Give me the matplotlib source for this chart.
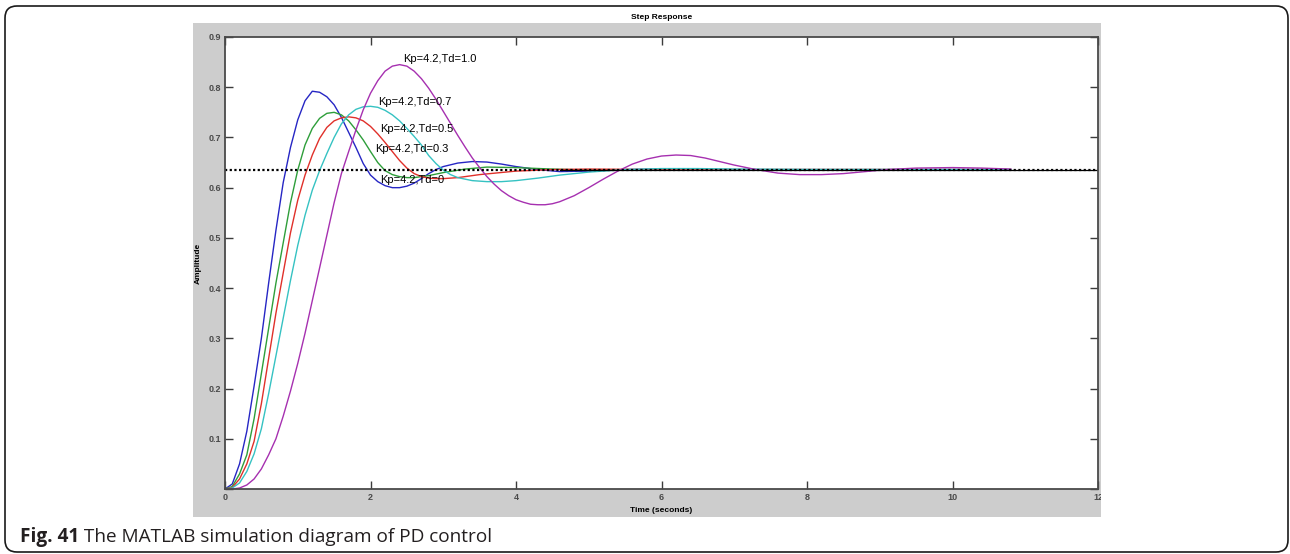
import matplotlib
matplotlib.use("Agg")
import matplotlib.pyplot as plt
from matplotlib.patches import FancyBboxPatch, Rectangle

plt.rcParams['font.family'] = ['Liberation Sans', 'DejaVu Sans']

# step responses, Kp = 4.2 and five values of Td
t_td0 = [0, 0.1, 0.2, 0.3, 0.4, 0.5, 0.6, 0.7, 0.8, 0.9, 1.0, 1.1, 1.2, 1.3, 1.4,
         1.5, 1.6, 1.7, 1.8, 1.9, 2.0, 2.1, 2.2, 2.3, 2.4, 2.5, 2.6, 2.7, 2.8, 2.9,
         3.0, 3.2, 3.4, 3.6, 3.8, 4.0, 4.3, 4.6, 5.0, 5.5, 6.0, 7.0, 8.0, 9.0, 10.0, 10.8]
y_td0 = [0, 0.01, 0.05, 0.115, 0.205, 0.30, 0.41, 0.515, 0.61, 0.68, 0.735, 0.773, 0.792,
         0.790, 0.781, 0.765, 0.74, 0.71, 0.68, 0.648, 0.625, 0.612, 0.604, 0.600, 0.600,
         0.603, 0.609, 0.618, 0.628, 0.636, 0.642, 0.649, 0.652, 0.651, 0.647, 0.642, 0.636,
         0.632, 0.633, 0.636, 0.637, 0.636, 0.636, 0.636, 0.636, 0.636]

t_td03 = [0, 0.1, 0.2, 0.3, 0.4, 0.5, 0.6, 0.7, 0.8, 0.9, 1.0, 1.1, 1.2, 1.3, 1.4,
          1.5, 1.6, 1.7, 1.8, 1.9, 2.0, 2.1, 2.2, 2.3, 2.4, 2.5, 2.6, 2.8, 3.0, 3.3,
          3.6, 4.0, 4.5, 5.0, 6.0, 7.0, 8.0, 9.0, 10.0, 10.8]
y_td03 = [0, 0.005, 0.03, 0.068, 0.14, 0.23, 0.32, 0.41, 0.49, 0.57, 0.635, 0.685, 0.718,
          0.738, 0.748, 0.750, 0.745, 0.733, 0.715, 0.695, 0.672, 0.65, 0.634, 0.626, 0.622,
          0.620, 0.620, 0.624, 0.630, 0.637, 0.641, 0.640, 0.637, 0.635, 0.636, 0.636, 0.636,
          0.636, 0.636, 0.636]

t_td05 = [0, 0.1, 0.2, 0.3, 0.4, 0.5, 0.6, 0.7, 0.8, 0.9, 1.0, 1.1, 1.2, 1.3, 1.4,
          1.5, 1.6, 1.7, 1.8, 1.9, 2.0, 2.1, 2.2, 2.3, 2.4, 2.5, 2.6, 2.7, 2.8, 2.9,
          3.0, 3.2, 3.5, 4.0, 4.5, 5.0, 6.0, 7.0, 8.0, 9.0, 10.0, 10.8]
y_td05 = [0, 0.003, 0.02, 0.05, 0.095, 0.17, 0.26, 0.35, 0.43, 0.51, 0.575, 0.625, 0.665,
          0.698, 0.72, 0.733, 0.739, 0.741, 0.739, 0.733, 0.722, 0.707, 0.69, 0.672, 0.654,
          0.639, 0.628, 0.622, 0.619, 0.618, 0.618, 0.620, 0.626, 0.633, 0.636, 0.637, 0.636,
          0.636, 0.636, 0.636, 0.636, 0.636]

t_td07 = [0, 0.1, 0.2, 0.3, 0.4, 0.5, 0.6, 0.7, 0.8, 0.9, 1.0, 1.1, 1.2, 1.3, 1.4,
          1.5, 1.6, 1.7, 1.8, 1.9, 2.0, 2.1, 2.2, 2.3, 2.4, 2.5, 2.6, 2.7, 2.8, 2.9,
          3.0, 3.1, 3.2, 3.4, 3.6, 3.8, 4.0, 4.3, 4.6, 5.0, 5.5, 6.0, 6.5, 7.0, 8.0,
          9.0, 10.0, 10.8]
y_td07 = [0, 0.002, 0.012, 0.035, 0.07, 0.12, 0.19, 0.265, 0.34, 0.415, 0.485, 0.545, 0.595,
          0.634, 0.668, 0.700, 0.727, 0.745, 0.756, 0.761, 0.762, 0.76, 0.754, 0.745, 0.733,
          0.718, 0.702, 0.685, 0.664, 0.648, 0.635, 0.626, 0.62, 0.614, 0.612, 0.612, 0.614,
          0.619, 0.625, 0.631, 0.636, 0.638, 0.638, 0.637, 0.636, 0.636, 0.636, 0.636]

t_td10 = [0, 0.1, 0.2, 0.3, 0.4, 0.5, 0.6, 0.7, 0.8, 0.9, 1.0, 1.1, 1.2, 1.3, 1.4,
          1.5, 1.6, 1.7, 1.8, 1.9, 2.0, 2.1, 2.2, 2.3, 2.4, 2.5, 2.6, 2.7, 2.8, 2.9,
          3.0, 3.1, 3.2, 3.3, 3.4, 3.5, 3.6, 3.7, 3.8, 3.9, 4.0, 4.1, 4.2, 4.3, 4.4,
          4.5, 4.6, 4.8, 5.0, 5.2, 5.4, 5.6, 5.8, 6.0, 6.2, 6.4, 6.6, 6.8, 7.0, 7.3,
          7.6, 7.9, 8.2, 8.5, 8.8, 9.1, 9.5, 10.0, 10.4, 10.8]
y_td10 = [0, 0.0, 0.002, 0.008, 0.02, 0.04, 0.068, 0.10, 0.145, 0.195, 0.25, 0.31, 0.375,
          0.44, 0.505, 0.57, 0.628, 0.672, 0.715, 0.755, 0.788, 0.813, 0.832, 0.842, 0.845,
          0.842, 0.832, 0.817, 0.798, 0.776, 0.752, 0.728, 0.704, 0.681, 0.659, 0.640, 0.622,
          0.607, 0.594, 0.584, 0.576, 0.571, 0.567, 0.566, 0.566, 0.568, 0.572, 0.584, 0.600,
          0.617, 0.633, 0.647, 0.657, 0.663, 0.665, 0.664, 0.659, 0.652, 0.645, 0.636, 0.629,
          0.626, 0.626, 0.628, 0.632, 0.636, 0.639, 0.640, 0.639, 0.637]

steady = 0.636
labels = ['Kp=4.2,Td=0', 'Kp=4.2,Td=0.3', 'Kp=4.2,Td=0.5', 'Kp=4.2,Td=0.7', 'Kp=4.2,Td=1.0']
label_t = [2.13, 2.06, 2.13, 2.10, 2.45]
label_y = [0.616, 0.676, 0.716, 0.77, 0.856]
colors = ['#2626c4', '#2e9e3a', '#e0302a', '#35c2c2', '#a630b0']

W, H = 1290, 554
fig = plt.figure(figsize=(W / 100, H / 100), dpi=100)

# page frame, grey matlab window and caption, in pixel units
bg = fig.add_axes([0, 0, 1, 1])
bg.set_xlim(0, W)
bg.set_ylim(H, 0)
bg.axis('off')
bg.add_patch(FancyBboxPatch((5, 6), 1283, 546, boxstyle="round,pad=0,rounding_size=12",
                            fc='white', ec='#1a1a1a', lw=1.2))
grey = Rectangle((193, 23), 908, 494, fc='#cdcdcd', ec='none')
bg.add_patch(grey)
t1 = bg.text(20, 537, "Fig. 41", family=['Open Sans', 'DejaVu Sans'], fontweight='bold',
             fontsize=13.7, va='center', color='#231f20')
bg.annotate(" The MATLAB simulation diagram of PD control", xy=(1, 0.5), xycoords=t1,
            va='center', ha='left', family=['Open Sans', 'DejaVu Sans'], fontsize=13.7,
            color='#231f20')

ax = fig.add_axes([225 / W, 1 - 489 / H, (1098 - 225) / W, (489 - 37) / H])
ax.set_facecolor('white')

curves = [(t_td0, y_td0), (t_td03, y_td03), (t_td05, y_td05), (t_td07, y_td07), (t_td10, y_td10)]
for (tt, yy), c in zip(curves, colors):
    ax.plot(tt, yy, color=c, lw=1.0)

ax.plot([4.6, 12], [steady, steady], color='black', lw=0.9)
ax.plot([0, 12], [steady, steady], color='black', lw=1.6, ls=(0, (1, 1.1)))

for lab, lt, ly in zip(labels, label_t, label_y):
    ax.text(lt, ly, lab, fontsize=8, va='center', ha='left', color='black')

ax.set_xlim(0, 12)
ax.set_ylim(0, 0.9)
ax.set_xticks([0, 2, 4, 6, 8, 10, 12])
ax.set_yticks([0, 0.1, 0.2, 0.3, 0.4, 0.5, 0.6, 0.7, 0.8, 0.9])
ax.set_yticklabels(['', '0.1', '0.2', '0.3', '0.4', '0.5', '0.6', '0.7', '0.8', '0.9'])
ax.tick_params(direction='in', length=6, width=1, top=True, right=True, labelsize=6.5,
               color='#3c3c3c', labelcolor='#4a4a4a', pad=3)
for lab in ax.get_xticklabels() + ax.get_yticklabels():
    lab.set_fontweight('bold')
for s in ax.spines.values():
    s.set_color('#4a4a4a')
    s.set_linewidth(1.3)

ax.xaxis.get_majorticklabels()[-1].set_clip_path(grey)

ax.set_title("Step Response", fontsize=6, fontweight='bold', y=(489 - 26) / 452, va='center')
ax.set_xlabel("Time (seconds)", fontsize=6, fontweight='bold', va='center')
ax.xaxis.set_label_coords(0.5, (489 - 511) / 452)
ax.set_ylabel("Amplitude", fontsize=6, fontweight='bold', va='center', ha='center')
ax.yaxis.set_label_coords((198 - 225) / 873, 0.5)

fig.savefig('out.png', dpi=100)
